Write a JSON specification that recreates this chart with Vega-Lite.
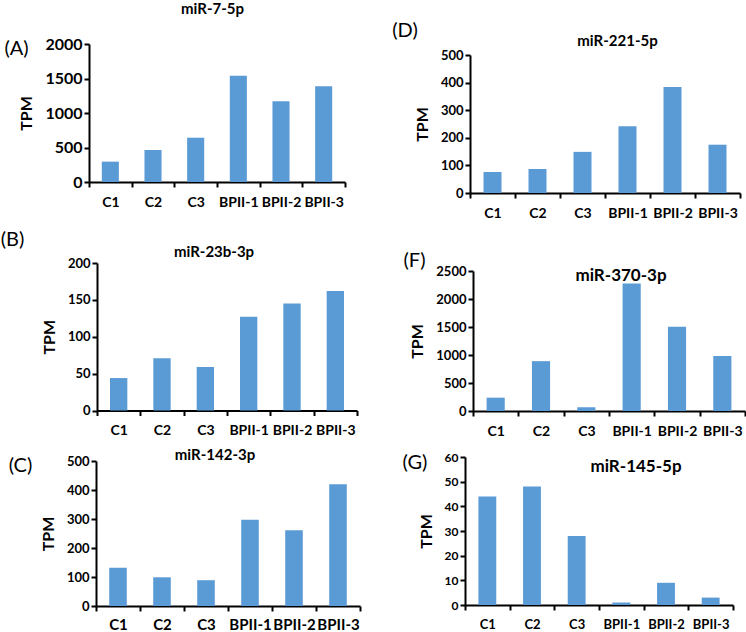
{
  "$schema": "https://vega.github.io/schema/vega-lite/v6.json",
  "padding": {"top": 2, "left": 0, "right": 0, "bottom": 0},
  "background": "white",
  "config": {
    "font": "Lato",
    "view": {"stroke": null},
    "axis": {
      "grid": false,
      "domainColor": "black",
      "domainWidth": 2,
      "tickColor": "black",
      "tickWidth": 2,
      "tickSize": 5,
      "labelColor": "black",
      "labelFont": "Lato",
      "labelFontWeight": "bold",
      "titleColor": "black",
      "titleFont": "Lato"
    },
    "axisX": {"labelAngle": 0, "tickBand": "extent", "labelPadding": 8, "titleFontSize": 20, "titleFontWeight": "normal", "titleAngle": 0, "titleAlign": "center", "titleBaseline": "middle"},
    "axisY": {"labelPadding": 2, "format": "d", "titleFontSize": 16, "titleFontWeight": "bold", "titlePadding": 10},
    "title": {"color": "black", "fontWeight": "bold", "anchor": "middle", "frame": "group", "offset": 0, "baseline": "alphabetic", "font": "Lato"},
    "bar": {"color": "#5B9BD5"}
  },
  "data": {"values": [
    {"panel": "A", "sample": "C1", "tpm": 295},
    {"panel": "A", "sample": "C2", "tpm": 464},
    {"panel": "A", "sample": "C3", "tpm": 642},
    {"panel": "A", "sample": "BPII-1", "tpm": 1541},
    {"panel": "A", "sample": "BPII-2", "tpm": 1169},
    {"panel": "A", "sample": "BPII-3", "tpm": 1387},
    {"panel": "D", "sample": "C1", "tpm": 76},
    {"panel": "D", "sample": "C2", "tpm": 87},
    {"panel": "D", "sample": "C3", "tpm": 149},
    {"panel": "D", "sample": "BPII-1", "tpm": 242},
    {"panel": "D", "sample": "BPII-2", "tpm": 384},
    {"panel": "D", "sample": "BPII-3", "tpm": 175},
    {"panel": "B", "sample": "C1", "tpm": 44},
    {"panel": "B", "sample": "C2", "tpm": 71},
    {"panel": "B", "sample": "C3", "tpm": 59},
    {"panel": "B", "sample": "BPII-1", "tpm": 127},
    {"panel": "B", "sample": "BPII-2", "tpm": 145},
    {"panel": "B", "sample": "BPII-3", "tpm": 162},
    {"panel": "F", "sample": "C1", "tpm": 238},
    {"panel": "F", "sample": "C2", "tpm": 890},
    {"panel": "F", "sample": "C3", "tpm": 65},
    {"panel": "F", "sample": "BPII-1", "tpm": 2275},
    {"panel": "F", "sample": "BPII-2", "tpm": 1505},
    {"panel": "F", "sample": "BPII-3", "tpm": 980},
    {"panel": "C", "sample": "C1", "tpm": 132},
    {"panel": "C", "sample": "C2", "tpm": 99},
    {"panel": "C", "sample": "C3", "tpm": 89},
    {"panel": "C", "sample": "BPII-1", "tpm": 297},
    {"panel": "C", "sample": "BPII-2", "tpm": 261},
    {"panel": "C", "sample": "BPII-3", "tpm": 420},
    {"panel": "G", "sample": "C1", "tpm": 44},
    {"panel": "G", "sample": "C2", "tpm": 48},
    {"panel": "G", "sample": "C3", "tpm": 28},
    {"panel": "G", "sample": "BPII-1", "tpm": 1},
    {"panel": "G", "sample": "BPII-2", "tpm": 9},
    {"panel": "G", "sample": "BPII-3", "tpm": 3}
  ]},
  "columns": 2,
  "bounds": "flush",
  "spacing": {"row": 46, "column": 105},
  "concat": [
    {
      "width": 256, "height": 138,
      "title": {"text": "miR-7-5p", "fontSize": 15, "dx": -4.5, "dy": -15},
      "transform": [{"filter": "datum.panel === 'A'"}],
      "mark": {"type": "bar", "width": {"band": 0.4}},
      "encoding": {
        "x": {"field": "sample", "type": "nominal", "sort": ["C1", "C2", "C3", "BPII-1", "BPII-2", "BPII-3"],
          "scale": {"paddingInner": 0, "paddingOuter": 0},
          "axis": {"title": "(A)", "labelFontSize": 14, "titleX": -73, "titleY": -133.5}},
        "y": {"field": "tpm", "type": "quantitative", "scale": {"domain": [0, 2000], "nice": false},
          "axis": {"title": "TPM", "values": [0, 500, 1000, 1500, 2000], "labelFontSize": 16}}
      }
    },
    {
      "width": 275, "height": 149,
      "title": {"text": "miR-221-5p", "fontSize": 15, "dx": 15, "dy": 32},
      "transform": [{"filter": "datum.panel === 'D'"}],
      "mark": {"type": "bar", "width": {"band": 0.4}},
      "encoding": {
        "x": {"field": "sample", "type": "nominal", "sort": ["C1", "C2", "C3", "BPII-1", "BPII-2", "BPII-3"],
          "scale": {"paddingInner": 0, "paddingOuter": 0, "range": [5, 275]},
          "axis": {"title": "(D)", "labelFontSize": 14, "titleX": -60.5, "titleY": -162.3}},
        "y": {"field": "tpm", "type": "quantitative", "scale": {"domain": [0, 500], "nice": false, "range": [149, 11]},
          "axis": {"title": "TPM", "values": [0, 100, 200, 300, 400, 500], "labelFontSize": 13, "offset": -5}}
      }
    },
    {
      "width": 268, "height": 171.5,
      "title": {"text": "miR-23b-3p", "fontSize": 15, "dx": -9, "dy": 35},
      "transform": [{"filter": "datum.panel === 'B'"}],
      "mark": {"type": "bar", "width": {"band": 0.4}},
      "encoding": {
        "x": {"field": "sample", "type": "nominal", "sort": ["C1", "C2", "C3", "BPII-1", "BPII-2", "BPII-3"],
          "scale": {"paddingInner": 0, "paddingOuter": 0, "range": [8, 268]},
          "axis": {"title": "(B)", "labelFontSize": 14, "titleX": -77, "titleY": -171.5}},
        "y": {"field": "tpm", "type": "quantitative", "scale": {"domain": [0, 200], "nice": false, "range": [171.5, 24]},
          "axis": {"title": "TPM", "values": [0, 50, 100, 150, 200], "labelFontSize": 13, "offset": -8}}
      }
    },
    {
      "width": 280, "height": 172,
      "title": {"text": "miR-370-3p", "fontSize": 17, "dx": 16, "dy": 50},
      "transform": [{"filter": "datum.panel === 'F'"}],
      "mark": {"type": "bar", "width": {"band": 0.4}},
      "encoding": {
        "x": {"field": "sample", "type": "nominal", "sort": ["C1", "C2", "C3", "BPII-1", "BPII-2", "BPII-3"],
          "scale": {"paddingInner": 0, "paddingOuter": 0, "range": [8, 280]},
          "axis": {"title": "(F)", "labelFontSize": 14, "titleX": -51, "titleY": -150.5}},
        "y": {"field": "tpm", "type": "quantitative", "scale": {"domain": [0, 2500], "nice": false, "range": [172, 32]},
          "axis": {"title": "TPM", "values": [0, 500, 1000, 1500, 2000, 2500], "labelFontSize": 13, "offset": -8}}
      }
    },
    {
      "width": 271, "height": 149,
      "title": {"text": "miR-142-3p", "fontSize": 15, "dx": -9.5, "dy": 11.7},
      "transform": [{"filter": "datum.panel === 'C'"}],
      "mark": {"type": "bar", "width": {"band": 0.4}},
      "encoding": {
        "x": {"field": "sample", "type": "nominal", "sort": ["C1", "C2", "C3", "BPII-1", "BPII-2", "BPII-3"],
          "scale": {"paddingInner": 0, "paddingOuter": 0, "range": [7, 271]},
          "axis": {"title": "(C)", "labelFontSize": 15, "labelPadding": 6, "titleX": -69, "titleY": -141}},
        "y": {"field": "tpm", "type": "quantitative", "scale": {"domain": [0, 500], "nice": false, "range": [149, 4]},
          "axis": {"title": "TPM", "values": [0, 100, 200, 300, 400, 500], "labelFontSize": 13, "offset": -7}}
      }
    },
    {
      "width": 268, "height": 148,
      "title": {"text": "miR-145-5p", "fontSize": 17, "dx": 37, "dy": 28.7},
      "transform": [{"filter": "datum.panel === 'G'"}],
      "mark": {"type": "bar", "width": {"band": 0.4}},
      "encoding": {
        "x": {"field": "sample", "type": "nominal", "sort": ["C1", "C2", "C3", "BPII-1", "BPII-2", "BPII-3"],
          "scale": {"paddingInner": 0, "paddingOuter": 0},
          "axis": {"title": "(G)", "labelFontSize": 13, "labelPadding": 8, "titleX": -50.5, "titleY": -143}},
        "y": {"field": "tpm", "type": "quantitative", "scale": {"domain": [0, 60], "nice": false},
          "axis": {"title": "TPM", "values": [0, 10, 20, 30, 40, 50, 60], "labelFontSize": 12}}
      }
    }
  ]
}
